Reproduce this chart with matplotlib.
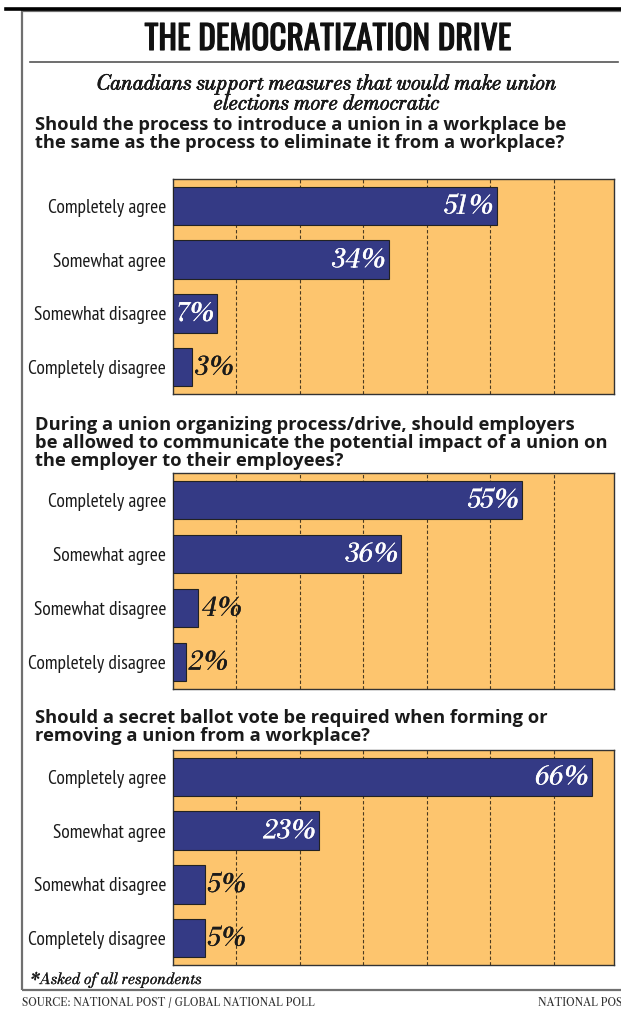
import numpy as np
import matplotlib.pyplot as plt
import matplotlib.patheffects as pe
from matplotlib.patches import Rectangle
from matplotlib.lines import Line2D

W, H = 621, 1010

title = "THE DEMOCRATIZATION DRIVE"
subtitle = ["Canadians support measures that would make union",
            "elections more democratic"]

categories = ["Completely agree", "Somewhat agree",
              "Somewhat disagree", "Completely disagree"]

questions = [
    ["Should the process to introduce a union in a workplace be",
     "the same as the process to eliminate it from a workplace?"],
    ["During a union organizing process/drive, should employers",
     "be allowed to communicate the potential impact of a union on",
     "the employer to their employees?"],
    ["Should a secret ballot vote be required when forming or",
     "removing a union from a workplace?"],
]

values_q1 = [51, 34, 7, 3]
values_q2 = [55, 36, 4, 2]
values_q3 = [66, 23, 5, 5]

footnote = "*Asked of all respondents"
source = "SOURCE: NATIONAL POST / GLOBAL NATIONAL POLL"
credit = "NATIONAL POST"

ORANGE = '#FDC56E'
NAVY = '#343A85'
INK = '#1a1a1a'

TITLE_FONT = ['Oswald', 'DejaVu Sans']
LABEL_FONT = ['PT Sans Narrow', 'Roboto Condensed', 'DejaVu Sans']
Q_FONT = ['Open Sans', 'DejaVu Sans']
SERIF_IT = ['Bodoni Moda', 'DejaVu Serif']
SMALL_SERIF = ['Libre Caslon Text', 'DejaVu Serif']

fig = plt.figure(figsize=(W / 100, H / 100), dpi=100)
fig.patch.set_facecolor('white')


def fx(x):
    return x / W


def fy(y):
    return 1 - y / H


def heavy(color, lw=0.6):
    return [pe.withStroke(linewidth=lw, foreground=color)]


# frame + rules
fig.add_artist(Line2D([fx(6), fx(621)], [fy(9), fy(9)], color='black', lw=2.6))
fig.add_artist(Rectangle((fx(22), fy(990)), fx(640) - fx(22), fy(11) - fy(990),
                         fill=False, edgecolor='#707070', lw=1.6))
fig.add_artist(Line2D([fx(30), fx(618)], [fy(62), fy(62)], color='#555555', lw=1.2))

fig.text(fx(328), fy(39), title, ha='center', va='center', fontsize=24,
         family=TITLE_FONT, color='#111111', path_effects=heavy('#111111', 0.8))
for i, line in enumerate(subtitle):
    fig.text(fx(326), fy(84 + 20 * i), line, ha='center', va='center', fontsize=14.5,
             family=SERIF_IT, style='italic', color=INK, path_effects=heavy(INK, 0.5))

# question headers: (first line y, axes top, axes bottom)
layout = [(125, 179, 394), (425, 473, 689), (718, 750, 965)]
ax_left, ax_right = 173, 614

for q, vals, (qy, top, bot) in zip(questions, [values_q1, values_q2, values_q3], layout):
    for j, line in enumerate(q):
        fig.text(fx(35), fy(qy + 18 * j), line, ha='left', va='center', fontsize=13.2,
                 family=Q_FONT, weight='bold', color=INK)

    ax = fig.add_axes([fx(ax_left), fy(bot), fx(ax_right) - fx(ax_left), fy(top) - fy(bot)])
    ax.set_facecolor(ORANGE)
    y = np.arange(len(categories))
    ax.barh(y, vals, height=0.72, color=NAVY, edgecolor='#222222', lw=0.8, zorder=3)
    ax.set_xlim(0, 69.5)
    ax.set_ylim(3.5, -0.5)
    for gx in range(10, 70, 10):
        ax.axvline(gx, color='#4a3a20', lw=0.8, ls=(0, (3, 2)), zorder=1)
    ax.set_xticks([])
    ax.set_yticks(y)
    ax.set_yticklabels(categories, family=LABEL_FONT, fontsize=14, color=INK)
    ax.tick_params(axis='y', length=0, pad=5)
    for s in ax.spines.values():
        s.set_color('#333333')
        s.set_linewidth(1.0)
    for yi, v in zip(y, vals):
        if v >= 7:
            ax.text(v - 0.6, yi + 0.02, f"{v}%", ha='right', va='center', color='white',
                    fontsize=18, family=SERIF_IT, style='italic', zorder=4,
                    path_effects=heavy('white', 0.3))
        else:
            ax.text(v + 0.5, yi + 0.02, f"{v}%", ha='left', va='center', color=INK,
                    fontsize=18, family=SERIF_IT, style='italic', zorder=4,
                    path_effects=heavy(INK, 0.3))

fig.text(fx(30), fy(980), footnote, ha='left', va='center', fontsize=11,
         family=SERIF_IT, style='italic', color=INK, path_effects=heavy(INK, 0.2))
fig.text(fx(22), fy(1003), source, ha='left', va='center', fontsize=7.5,
         family=SMALL_SERIF, color='#333333')
fig.text(fx(538), fy(1003), credit, ha='left', va='center', fontsize=7.5,
         family=SMALL_SERIF, color='#333333')

fig.savefig('out.png', dpi=100)
